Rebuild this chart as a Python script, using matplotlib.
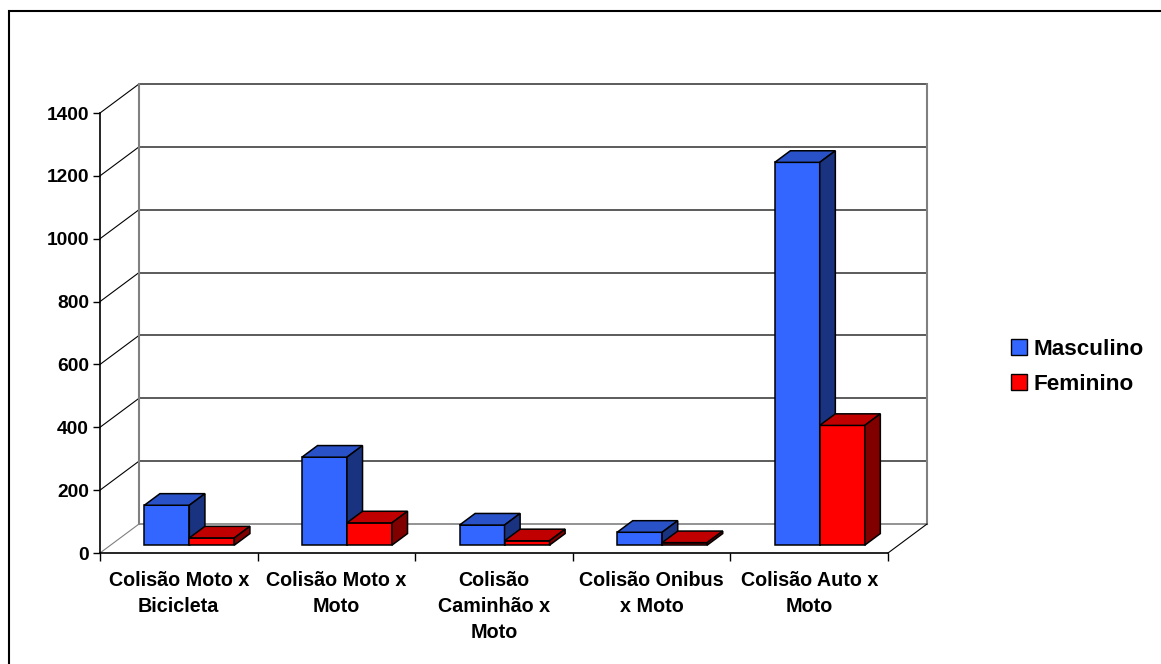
import numpy as np
import matplotlib.pyplot as plt
from matplotlib.patches import Polygon, Patch, Rectangle

# data
categories = ['Colisão Moto x\nBicicleta', 'Colisão Moto x\nMoto', 'Colisão\nCaminhão x\nMoto',
              'Colisão Onibus\nx Moto', 'Colisão Auto x\nMoto']
masculino = [127, 280, 64, 41, 1218]
feminino = [23, 71, 14, 8, 381]
series_names = ['Masculino', 'Feminino']
yticks = [0, 200, 400, 600, 800, 1000, 1200, 1400]

# colours: front / top / side
faces = {
    'Masculino': ('#3366FF', '#2A52C8', '#1A3380'),
    'Feminino': ('#FF0000', '#C00000', '#800000'),
}

plt.rcParams['font.family'] = ['Liberation Sans', 'DejaVu Sans']
plt.rcParams['font.weight'] = 'bold'

W, H = 1161, 664
fig = plt.figure(figsize=(W / 100, H / 100), dpi=100)
ax = fig.add_axes([100 / W, (H - 553) / H, 788 / W, 440 / H])
ncat = len(categories)
ax.set_xlim(0, ncat)
ax.set_ylim(0, 1400)

# fake 3D: depth offset of the back wall in data units
DX = 39 / (788 / ncat)
DY = 29 / (440 / 1400)


def proj(x, v, d):
    return (x + d * DX, v + d * DY)


wall_grey = '#808080'
grid_col = '#404040'

# back wall gridlines + left wall diagonals
for t in yticks:
    ax.plot(*zip(proj(0, t, 1), proj(ncat, t, 1)), color=grid_col if t else wall_grey,
            lw=1.2, clip_on=False, zorder=1)
    ax.plot(*zip(proj(0, t, 0), proj(0, t, 1)), color='black' if t else wall_grey,
            lw=0.8, clip_on=False, zorder=1)
ax.plot(*zip(proj(0, 0, 1), proj(0, 1400, 1)), color=wall_grey, lw=1.5, clip_on=False, zorder=1)
ax.plot(*zip(proj(ncat, 0, 1), proj(ncat, 1400, 1)), color=wall_grey, lw=1.5, clip_on=False, zorder=1)
ax.plot(*zip(proj(ncat, 0, 0), proj(ncat, 0, 1)), color='black', lw=0.8, clip_on=False, zorder=1)

# bars
bar_w = 0.2855
d1, d2 = 0.27, 0.67
z = 3
for i in range(ncat):
    for s, vals in enumerate([masculino, feminino]):
        v = vals[i]
        front, top, side = faces[series_names[s]]
        xl = i + 0.5 - bar_w + s * bar_w
        xr = xl + bar_w
        polys = [
            ([proj(xl, 0, d1), proj(xr, 0, d1), proj(xr, v, d1), proj(xl, v, d1)], front),
            ([proj(xl, v, d1), proj(xr, v, d1), proj(xr, v, d2), proj(xl, v, d2)], top),
            ([proj(xr, 0, d1), proj(xr, 0, d2), proj(xr, v, d2), proj(xr, v, d1)], side),
        ]
        for pts, col in polys:
            ax.add_patch(Polygon(pts, closed=True, facecolor=col, edgecolor='black',
                                 lw=1.1, joinstyle='miter', clip_on=False, zorder=z))
            z += 1

# axes styling
for sp in ['top', 'right']:
    ax.spines[sp].set_visible(False)
for sp in ['left', 'bottom']:
    ax.spines[sp].set_color('black')
    ax.spines[sp].set_linewidth(1.2)
ax.set_yticks(yticks)
ax.set_yticklabels([str(t) for t in yticks], fontsize=13.8, fontweight='bold')
ax.tick_params(axis='y', length=5, width=1, pad=3)
ax.set_xticks(np.arange(ncat + 1))
ax.set_xticklabels([])
ax.tick_params(axis='x', which='major', length=6, width=1)
ax.set_xticks(np.arange(ncat) + 0.5, minor=True)
ax.set_xticklabels(categories, minor=True, fontsize=14.2, fontweight='bold', linespacing=1.45)
ax.tick_params(axis='x', which='minor', length=0, pad=13)
ax.patch.set_alpha(0)

# legend
handles = [Patch(facecolor=faces[n][0], edgecolor='black', lw=1.0) for n in series_names]
fig.legend(handles, series_names, loc='center left', bbox_to_anchor=(1000 / W, 1 - 367 / H),
           frameon=False, prop={'size': 16.2, 'weight': 'bold'}, handlelength=0.7,
           handleheight=0.7, handletextpad=0.3, labelspacing=0.62, borderpad=0)

# outer border (only left and top visible)
fig.add_artist(Rectangle((9 / W, -0.1), 1.2, (H - 11) / H + 0.1, transform=fig.transFigure,
                         fill=False, edgecolor='black', lw=1.5))

fig.savefig('out.png', dpi=100)
